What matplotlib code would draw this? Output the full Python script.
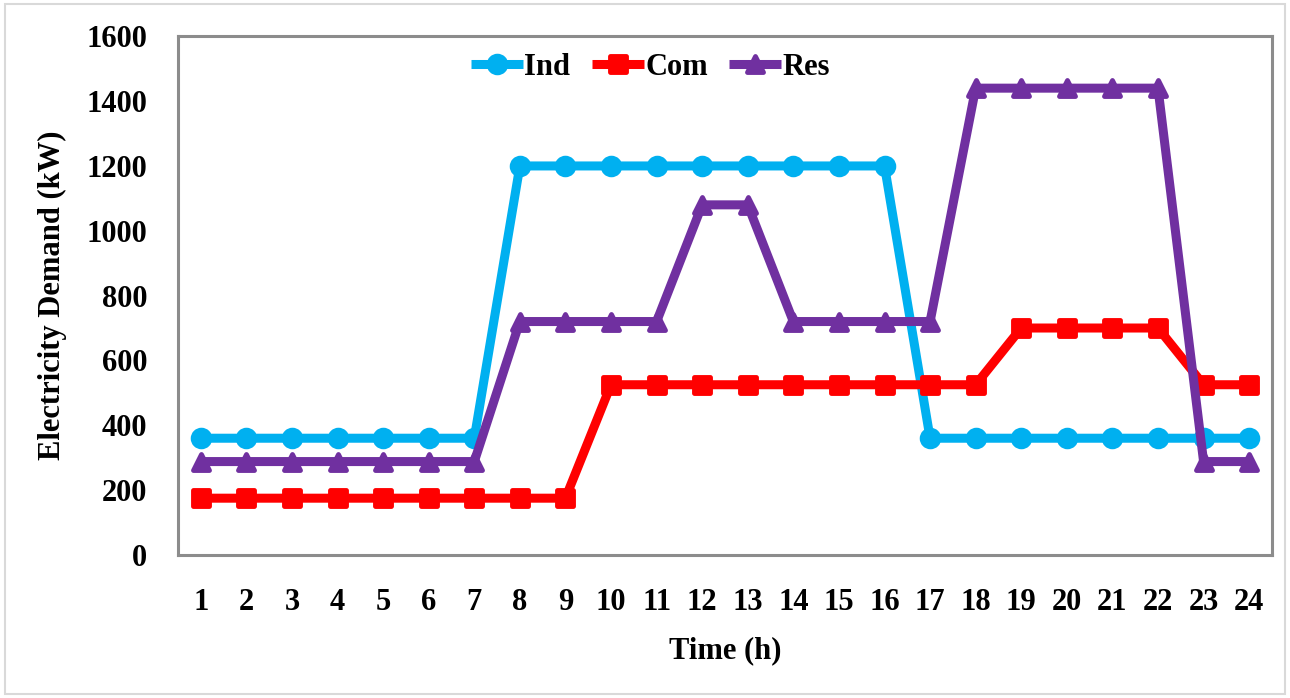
import matplotlib
matplotlib.use("Agg")
import matplotlib.pyplot as plt
from matplotlib.markers import MarkerStyle
from matplotlib.patches import Rectangle

hours = list(range(1, 25))
ind = [360] * 7 + [1200] * 9 + [360] * 8
com = [175] * 9 + [525] * 9 + [700] * 4 + [525] * 2
res = [288] * 7 + [720] * 4 + [1080] * 2 + [720] * 4 + [1440] * 5 + [288] * 2
y_ticks = [0, 200, 400, 600, 800, 1000, 1200, 1400, 1600]

plt.rcParams['font.family'] = ['Liberation Serif', 'DejaVu Serif']
plt.rcParams['font.weight'] = 'bold'

fig = plt.figure(figsize=(12.9, 6.98), dpi=100)
fig.patches.append(Rectangle((0.004, 0.006), 0.992, 0.988, transform=fig.transFigure,
                             fill=False, edgecolor='#d9d9d9', lw=1.5))
ax = fig.add_axes([0.138, 0.205, 0.848, 0.743])

series = [
    ('Ind', ind, '#00B0F0', 'o', 12),
    ('Com', com, '#FF0000', 's', 11),
    ('Res', res, '#7030A0', '^', 12),
]
for name, vals, color, mk, ms in series:
    ax.plot(hours, vals, color=color, lw=6.5, label=name,
            marker=MarkerStyle(mk, joinstyle='round'), markersize=ms,
            markeredgewidth=3.5, markeredgecolor=color, markerfacecolor=color,
            solid_joinstyle='round', solid_capstyle='butt')

ax.set_xlim(0.5, 24.5)
ax.set_ylim(0, 1600)
ax.set_yticks(y_ticks)
ax.set_xticks(hours)
ax.tick_params(length=0, labelsize=22)
ax.tick_params(axis='y', pad=22)
ax.tick_params(axis='x', pad=24)
for lab in ax.get_xticklabels() + ax.get_yticklabels():
    lab.set_fontweight('bold')
for sp in ax.spines.values():
    sp.set_color('#8c8c8c')
    sp.set_linewidth(2.2)

ax.set_xlabel('Time (h)', fontsize=22, fontweight='bold', labelpad=14)
ax.set_ylabel('Electricity Demand (kW)', fontsize=22, fontweight='bold', labelpad=14)

leg = ax.legend(loc='center', bbox_to_anchor=(0.432, 0.94), ncol=3, frameon=False,
                fontsize=22, handlelength=1.7, columnspacing=0.7, handletextpad=0.05,
                borderpad=0.1)

fig.savefig('out.png', dpi=100)
